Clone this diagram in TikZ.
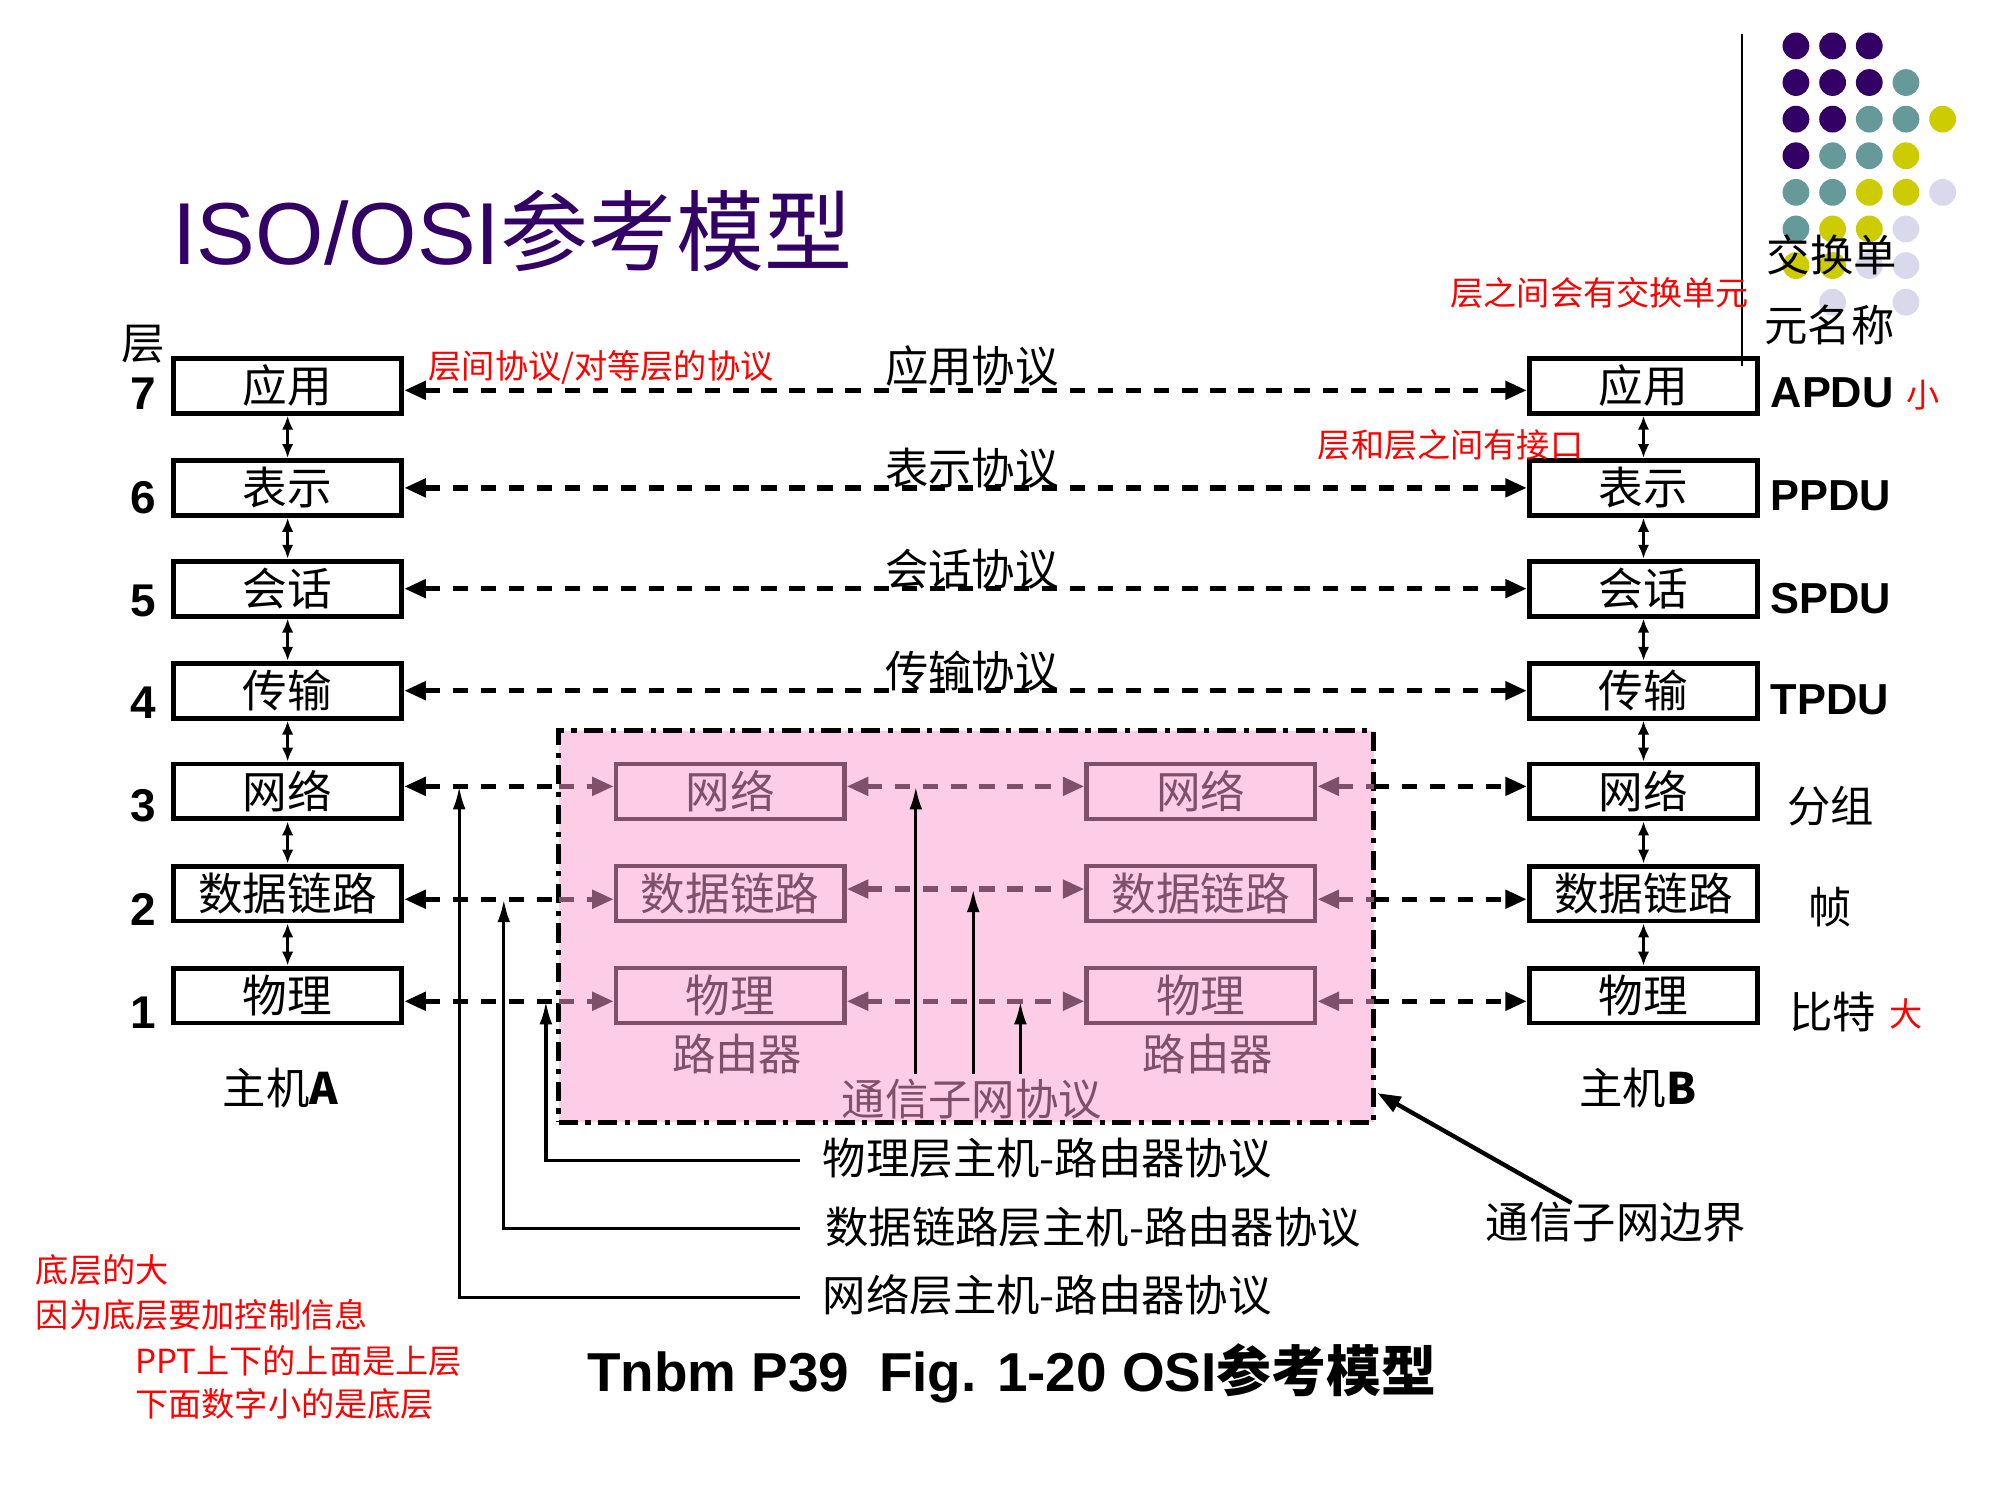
\documentclass[tikz,border=0pt]{standalone}
\usepackage{fontspec}
\setmainfont{Liberation Sans}
\newfontfamily\cjk{Noto Sans CJK SC}
\usetikzlibrary{arrows.meta}
\definecolor{titlec}{RGB}{51,0,102}
\definecolor{routerc}{RGB}{128,80,107}
\definecolor{pinkfill}{RGB}{253,204,230}
\definecolor{dotP}{RGB}{51,0,102}
\definecolor{dotT}{RGB}{102,153,153}
\definecolor{dotY}{RGB}{204,204,0}
\definecolor{dotL}{RGB}{217,217,235}
\definecolor{notered}{RGB}{255,0,0}
\newcommand\fs[1]{\fontsize{#1}{#1}\selectfont}

\begin{document}
\begin{tikzpicture}[x=1pt, y=-1pt,
  >={Triangle[length=17pt,width=14pt]},
  lbl/.style={inner sep=1pt, font=\cjk\fs{34}},
  note/.style={inner sep=1pt, text=notered, font=\cjk\fs{26}},
  num/.style={inner sep=1pt, font=\bfseries\fs{36}},
  pdu/.style={inner sep=1pt, anchor=west, font=\bfseries\fs{34}},
  hostbox/.style={draw=black, line width=3.8pt, minimum width=179pt, minimum height=43pt, inner sep=0pt, font=\cjk\fs{35}},
  routerbox/.style={draw=routerc, text=routerc, line width=3.6pt, minimum width=179pt, minimum height=43pt, inner sep=0pt, font=\cjk\fs{35}},
  peerblack/.style={line width=4.2pt, dash pattern=on 12pt off 10pt, draw=black},
  peerpurple/.style={line width=4.2pt, dash pattern=on 12pt off 10pt, draw=routerc},
  stack/.style={line width=2.6pt, {Latex[length=11pt,width=9pt]}-{Latex[length=11pt,width=9pt]}},
  uparrow/.style={line width=2.6pt, -{Latex[length=18pt,width=10pt]}},
  subnetbox/.style={draw=black, fill=pinkfill, line width=4pt, dash pattern=on 15pt off 6pt on 4pt off 6pt, inner sep=0pt}
]
\useasboundingbox (0,0) rectangle (1568,1176);
\fill[white] (0,0) rectangle (1568,1176);

% decorative dot grid and rule at the top right
\foreach \i/\j/\k in {0/0/dotP,1/0/dotP,2/0/dotP,
  0/1/dotP,1/1/dotP,2/1/dotP,3/1/dotT,
  0/2/dotP,1/2/dotP,2/2/dotT,3/2/dotT,4/2/dotY,
  0/3/dotP,1/3/dotT,2/3/dotT,3/3/dotY,
  0/4/dotT,1/4/dotT,2/4/dotY,3/4/dotY,4/4/dotL,
  0/5/dotT,1/5/dotY,2/5/dotY,3/5/dotL,
  0/6/dotY,1/6/dotY,2/6/dotL,3/6/dotL,
  1/7/dotL,3/7/dotL}
  \fill[\k] ({1408+28.75*\i},{36+28.7*\j}) circle (10.5pt);
\coordinate (ruleTop) at (1366,27);
\coordinate (ruleBot) at (1366,287);
\draw[line width=1.5pt] (ruleTop) -- (ruleBot);

% title
\node[anchor=base west, inner sep=0pt, text=titlec, font=\fs{69}] (title) at (135,207) {ISO/OSI{\cjk 参考模型}};

% communication subnet area
\node[subnetbox, minimum width=639pt, minimum height=307pt] (subnet) at (757.5,726.5) {};

% host A stack
\node[hostbox] (A7) at (225.5,302.5) {应用};
\node[hostbox] (A6) at (225.5,382.5) {表示};
\node[hostbox] (A5) at (225.5,461.5) {会话};
\node[hostbox] (A4) at (225.5,541.5) {传输};
\node[hostbox] (A3) at (225.5,620.5) {网络};
\node[hostbox] (A2) at (225.5,700.5) {数据链路};
\node[hostbox] (A1) at (225.5,780.5) {物理};
% host B stack
\node[hostbox] (B7) at (1288.5,302.5) {应用};
\node[hostbox] (B6) at (1288.5,382.5) {表示};
\node[hostbox] (B5) at (1288.5,461.5) {会话};
\node[hostbox] (B4) at (1288.5,541.5) {传输};
\node[hostbox] (B3) at (1288.5,620.5) {网络};
\node[hostbox] (B2) at (1288.5,700.5) {数据链路};
\node[hostbox] (B1) at (1288.5,780.5) {物理};
% routers
\node[routerbox] (RL3) at (572.5,620.5) {网络};
\node[routerbox] (RL2) at (572.5,700.5) {数据链路};
\node[routerbox] (RL1) at (572.5,780.5) {物理};
\node[routerbox] (RR3) at (941.5,620.5) {网络};
\node[routerbox] (RR2) at (941.5,700.5) {数据链路};
\node[routerbox] (RR1) at (941.5,780.5) {物理};
\node[lbl, text=routerc] (rtL) at (578,826) {路由器};
\node[lbl, text=routerc] (rtR) at (947,826) {路由器};
\node[lbl, text=routerc] (subproto) at (762,862) {通信子网协议};

% layer numbers
\node[lbl] (layerhdr) at (112,270) {层};
\node[num] (n7) at (112,309) {7};
\node[num] (n6) at (112,390) {6};
\node[num] (n5) at (112,471) {5};
\node[num] (n4) at (112,551) {4};
\node[num] (n3) at (112,632) {3};
\node[num] (n2) at (112,713) {2};
\node[num] (n1) at (112,794) {1};

% interfaces between adjacent layers
\foreach \h in {A,B}{
  \draw[stack] (\h7.south) -- (\h6.north);
  \draw[stack] (\h6.south) -- (\h5.north);
  \draw[stack] (\h5.south) -- (\h4.north);
  \draw[stack] (\h4.south) -- (\h3.north);
  \draw[stack] (\h3.south) -- (\h2.north);
  \draw[stack] (\h2.south) -- (\h1.north);
}

% end-to-end peer protocols
\draw[peerblack, <->] ([yshift=-3.5pt]A7.east) -- ([yshift=-3.5pt]B7.west);
\draw[peerblack, <->] (A6.east) -- (B6.west);
\draw[peerblack, <->] (A5.east) -- (B5.west);
\draw[peerblack, <->] (A4.east) -- (B4.west);
\node[lbl] (p7) at (762,287) {应用协议};
\node[lbl] (p6) at (762,367) {表示协议};
\node[lbl] (p5) at (762,446) {会话协议};
\node[lbl] (p4) at (762,526) {传输协议};

% host-router and router-router protocols
\coordinate (bl3) at (438,616.5);
\coordinate (bl2) at (438,705);
\coordinate (bl1) at (438,785);
\coordinate (br3) at (1077,616.5);
\coordinate (br2) at (1077,705);
\coordinate (br1) at (1077,785);
\draw[peerblack, <-] ([yshift=4pt]A3.east) -- (bl3);
\draw[peerpurple, ->] (bl3) -- ([yshift=4pt]RL3.west);
\draw[peerblack, <-] ([yshift=-4.5pt]A2.east) -- (bl2);
\draw[peerpurple, ->] (bl2) -- ([yshift=-4.5pt]RL2.west);
\draw[peerblack, <-] ([yshift=-4.5pt]A1.east) -- (bl1);
\draw[peerpurple, ->] (bl1) -- ([yshift=-4.5pt]RL1.west);
\draw[peerpurple, <->] ([yshift=4pt]RL3.east) -- ([yshift=4pt]RR3.west);
\draw[peerpurple, <->] ([yshift=3.5pt]RL2.east) -- ([yshift=3.5pt]RR2.west);
\draw[peerpurple, <->] ([yshift=-4.5pt]RL1.east) -- ([yshift=-4.5pt]RR1.west);
\draw[peerpurple, <-] ([yshift=4pt]RR3.east) -- (br3);
\draw[peerblack, ->] (br3) -- ([yshift=4pt]B3.west);
\draw[peerpurple, <-] ([yshift=-4.5pt]RR2.east) -- (br2);
\draw[peerblack, ->] (br2) -- ([yshift=-4.5pt]B2.west);
\draw[peerpurple, <-] ([yshift=-4.5pt]RR1.east) -- (br1);
\draw[peerblack, ->] (br1) -- ([yshift=-4.5pt]B1.west);

% subnet protocol pointers
\coordinate (s3) at (718,842);
\coordinate (s3t) at (718,616.5);
\coordinate (s2) at (763,842);
\coordinate (s2t) at (763,697);
\coordinate (s1) at (800,842);
\coordinate (s1t) at (800,785);
\draw[uparrow] (s3) -- (s3t);
\draw[uparrow] (s2) -- (s2t);
\draw[uparrow] (s1) -- (s1t);

% host-router protocol pointers
\node[lbl, anchor=west] (hr1) at (644,908) {物理层主机-路由器协议};
\node[lbl, anchor=west] (hr2) at (646,962) {数据链路层主机-路由器协议};
\node[lbl, anchor=west] (hr3) at (644,1015) {网络层主机-路由器协议};
\coordinate (h1t) at (428,785);
\coordinate (h2t) at (395,705);
\coordinate (h3t) at (360,616.5);
\draw[uparrow] ([xshift=-17pt,yshift=-2pt]hr1.west) -| (h1t);
\draw[uparrow] ([xshift=-19pt,yshift=-1pt]hr2.west) -| (h2t);
\draw[uparrow] ([xshift=-17pt,yshift=-2pt]hr3.west) -| (h3t);

% subnet boundary callout
\node[lbl] (bndlbl) at (1267,958) {通信子网边界};
\coordinate (bndtip) at (1080,857);
\draw[line width=3.4pt, -{Triangle[length=18pt,width=13pt]}] ([xshift=-35pt,yshift=-2pt]bndlbl.north) -- (bndtip);

% host names
\node[lbl] (hostA) at (220,853) {主机\textbf{A}};
\node[lbl] (hostB) at (1284,853) {主机\textbf{B}};

% data unit names
\node[lbl, anchor=west] (xu1) at (1384,200) {交换单};
\node[lbl, anchor=west] (xu2) at (1382,255) {元名称};
\node[pdu] (apdu) at (1387,308) {APDU};
\node[pdu] (ppdu) at (1387,389) {PPDU};
\node[pdu] (spdu) at (1387,469) {SPDU};
\node[pdu] (tpdu) at (1387,549) {TPDU};
\node[lbl] (pkt) at (1435,632) {分组};
\node[lbl] (frm) at (1435,711) {帧};
\node[lbl] (bit) at (1437,793) {比特};
\node[note] (small) at (1508,310) {小};
\node[note] (big) at (1494,795) {大};

% remarks
\node[note, anchor=west] (r1) at (335,288) {层间协议/对等层的协议};
\node[note, anchor=west] (r2) at (1032,349) {层和层之间有接口};
\node[note, anchor=west] (r3) at (1136,230) {层之间会有交换单元};
\node[note, anchor=west] (r4) at (27,996) {底层的大};
\node[note, anchor=west] (r5) at (27,1031) {因为底层要加控制信息};
\node[note, anchor=west] (r6) at (105,1067) {PPT上下的上面是上层};
\node[note, anchor=west] (r7) at (105,1101) {下面数字小的是底层};

% caption
\node[inner sep=1pt, font=\bfseries\fs{43}] (caption) at (793,1077) {Tnbm P39\hspace{0.55em}Fig. 1-20 OSI{\cjk\bfseries 参考模型}};
\end{tikzpicture}
\end{document}
